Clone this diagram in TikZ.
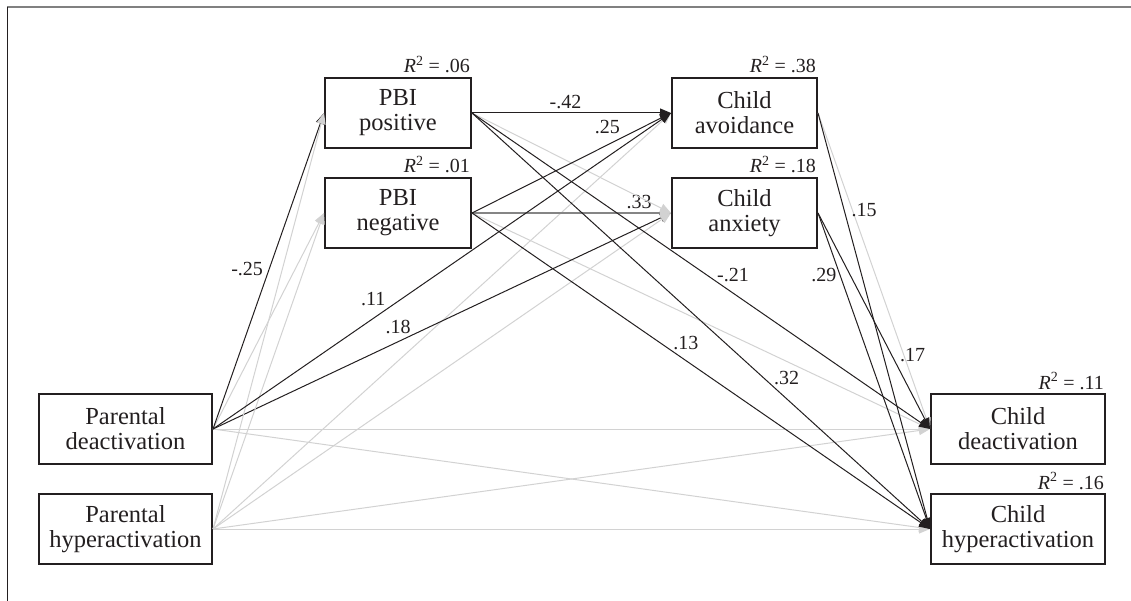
\documentclass[tikz,border=0pt]{standalone}
\usepackage{fontspec}
\setmainfont{Liberation Serif}
\usetikzlibrary{arrows.meta}
\definecolor{ink}{HTML}{231F20}
\definecolor{faint}{HTML}{D2D2D2}
\definecolor{mid}{HTML}{858585}
\begin{document}
\begin{tikzpicture}[x=1pt,y=-1pt,
  box/.style={draw=ink, line width=2pt, inner sep=0pt, align=center, text=ink,
    font=\fontsize{24.5}{25}\selectfont, minimum height=70pt},
  rsq/.style={text=ink, font=\fontsize{20}{20}\selectfont, inner sep=0pt,
    anchor=base east, xshift=-2pt, yshift=4pt},
  tip/.style={-{Triangle[length=11pt,width=9pt]}},
  sig/.style={draw=ink, line width=1pt, tip},
  ns/.style={draw=faint, line width=1pt, tip},
  coef/.style={text=ink, font=\fontsize{20}{20}\selectfont, inner sep=0pt},
]
\useasboundingbox (0,0) rectangle (1131,601);

% frame
\draw[draw=gray, line width=1.5pt] (7,7) -- (1131,7);
\draw[draw=ink, line width=1pt] (7,7) -- (7,601);

% variables
\node[box, minimum width=146pt] (ppos) at (398,113) {PBI\\positive};
\node[box, minimum width=146pt] (pneg) at (398,213) {PBI\\negative};
\node[box, minimum width=145pt] (cavo) at (744.5,113) {Child\\avoidance};
\node[box, minimum width=145pt] (canx) at (744.5,213) {Child\\anxiety};
\node[box, minimum width=173pt] (pdea) at (125.5,429) {Parental\\deactivation};
\node[box, minimum width=173pt] (phyp) at (125.5,529) {Parental\\hyperactivation};
\node[box, minimum width=174pt] (cdea) at (1018,429) {Child\\deactivation};
\node[box, minimum width=174pt] (chyp) at (1018,529) {Child\\hyperactivation};

% explained variance
\node[rsq] (rppos) at (ppos.north east) {\textit{R}\textsuperscript{2} = .06};
\node[rsq] (rpneg) at (pneg.north east) {\textit{R}\textsuperscript{2} = .01};
\node[rsq] (rcavo) at (cavo.north east) {\textit{R}\textsuperscript{2} = .38};
\node[rsq] (rcanx) at (canx.north east) {\textit{R}\textsuperscript{2} = .18};
\node[rsq] (rcdea) at (cdea.north east) {\textit{R}\textsuperscript{2} = .11};
\node[rsq] (rchyp) at (chyp.north east) {\textit{R}\textsuperscript{2} = .16};

% non-significant paths
\draw[ns] (pdea.east) -- (pneg.west);
\draw[ns] (pdea.east) -- (cdea.west);
\draw[ns] (pdea.east) -- (chyp.west);
\draw[ns] (phyp.east) -- (cavo.west);
\draw[ns] (phyp.east) -- (cdea.west);
\draw[ns] (phyp.east) -- (chyp.west);
\draw[ns] (pneg.east) -- (cdea.west);
\draw[ns] (cavo.east) -- (cdea.west);

% significant paths into the mediators
\draw[sig] (pdea.east) -- node[coef, pos=.506, xshift=-22pt] {-.25} (ppos.west);
\draw[sig] (pdea.east) -- node[coef, pos=.404, yshift=15pt] {.18} (canx.west);
\draw[draw=mid, line width=1.2pt, -{Triangle[length=11pt,width=9pt,color=faint]}]
  (pneg.east) -- node[coef, pos=.84, yshift=11pt] {.33} (canx.west);

\draw[ns] (phyp.east) -- (ppos.west);
\draw[ns] (phyp.east) -- (pneg.west);
\draw[ns] (phyp.east) -- (canx.west);
\draw[ns] (ppos.east) -- (canx.west);

% significant paths into the outcomes
\draw[sig] (pdea.east) -- node[coef, pos=.35, yshift=19pt] {.11} (cavo.west);
\draw[sig] (ppos.east) -- node[coef, pos=.47, yshift=11pt] {-.42} (cavo.west);
\draw[sig] (pneg.east) -- node[coef, pos=.68, yshift=18pt] {.25} (cavo.west);
\draw[sig] (ppos.east) -- node[coef, pos=.57, yshift=18pt] {-.21} (cdea.west);
\draw[sig] (ppos.east) -- node[coef, pos=.687, yshift=21pt] {.32} (chyp.west);
\draw[sig] (pneg.east) -- node[coef, pos=.467, yshift=18pt] {.13} (chyp.west);
\draw[sig] (cavo.east) -- node[coef, pos=.233, xshift=20pt] {.15} (chyp.west);
\draw[sig] (canx.east) -- node[coef, pos=.657, xshift=21pt] {.17} (cdea.west);
\draw[sig] (canx.east) -- node[coef, pos=.196, xshift=-16pt] {.29} (chyp.west);
\end{tikzpicture}
\end{document}
